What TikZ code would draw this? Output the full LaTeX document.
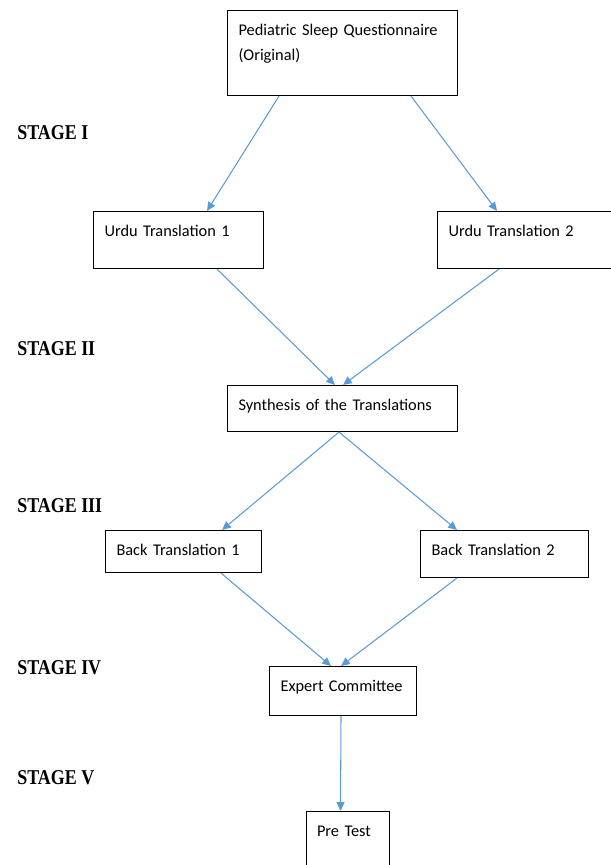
\documentclass[tikz,border=0pt]{standalone}
\usepackage{fontspec}
\setmainfont{Carlito}
\newfontfamily\stagefont[FakeStretch=0.85]{Liberation Serif}
\usetikzlibrary{arrows.meta}
\definecolor{arrowblue}{RGB}{91,155,213}

\begin{document}
\begin{tikzpicture}[
    box/.style 2 args={draw, line width=0.6pt, anchor=north west, align=left,
      inner xsep=0.22cm, inner ysep=0.2cm, text height=0.3cm,
      text width=#1, text depth=#2, font=\fontsize{9.3}{14}\selectfont},
    stage/.style={anchor=base west, inner sep=0pt,
      font=\stagefont\bfseries\fontsize{12}{14}\selectfont},
    link/.style={-{Triangle[length=5pt,width=4.5pt]}, arrowblue, line width=0.6pt}]
        \useasboundingbox (0,0) rectangle (12.22,-17.3);

        % Original questionnaire
        \node (orig) [box={4.16cm}{1.0cm}] at (4.54,-0.2) {Pediatric Sleep Questionnaire\\(Original)};

        % Forward translations
        \node (urdu1) [box={2.96cm}{0.44cm}] at (1.86,-4.22) {Urdu Translation 1};
        \node (urdu2) [box={3.16cm}{0.44cm}] at (8.74,-4.22) {Urdu Translation 2};

        \node (synth) [box={4.16cm}{0.22cm}] at (4.54,-7.7) {Synthesis of the Translations};

        % Back translations
        \node (back1) [box={2.68cm}{0.14cm}] at (2.1,-10.6) {Back Translation 1};
        \node (back2) [box={2.92cm}{0.24cm}] at (8.4,-10.6) {Back Translation 2};

        \node (expert) [box={2.50cm}{0.28cm}] at (5.38,-13.32) {Expert Committee};
        \node (pretest) [box={1.23cm}{0.6cm}] at (6.11,-16.22) {Pre Test};

        % Stage labels on the left
        \node (stageI) [stage] at (0.34,-2.8) {STAGE I};
        \node (stageII) [stage] at (0.34,-7.1) {STAGE II};
        \node (stageIII) [stage] at (0.34,-10.24) {STAGE III};
        \node (stageIV) [stage] at (0.34,-13.48) {STAGE IV};
        \node (stageV) [stage] at (0.34,-15.68) {STAGE V};

        % Arrows between the steps
        \draw[link] ([xshift=1.04cm]orig.south west) -- ([xshift=2.28cm]urdu1.north west);
        \draw[link] ([xshift=3.68cm]orig.south west) -- ([xshift=1.2cm]urdu2.north west);
        \draw[link] ([xshift=2.48cm]urdu1.south west) -- ([xshift=2.16cm]synth.north west);
        \draw[link] ([xshift=1.24cm]urdu2.south west) -- ([xshift=2.32cm]synth.north west);
        \draw[link] ([xshift=2.24cm]synth.south west) -- ([xshift=2.34cm]back1.north west);
        \draw[link] ([xshift=2.24cm]synth.south west) -- ([xshift=0.74cm]back2.north west);
        \draw[link] ([xshift=2.32cm]back1.south west) -- ([xshift=1.24cm]expert.north west);
        \draw[link] ([xshift=0.74cm]back2.south west) -- ([xshift=1.44cm]expert.north west);
        \draw[link] ([xshift=1.44cm]expert.south west) -- ([xshift=0.7cm]pretest.north west);
\end{tikzpicture}
\end{document}
